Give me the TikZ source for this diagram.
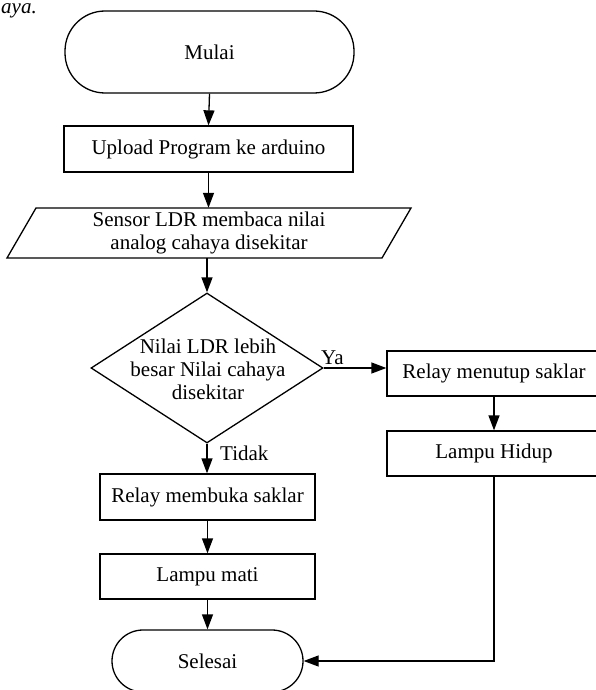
\documentclass[tikz,border=0pt]{standalone}
\usepackage{fontspec}
\setmainfont{Liberation Serif}
\usetikzlibrary{arrows.meta,shapes.geometric,calc}
\tikzset{
  base/.style={line width=1.3pt},
  txt/.style={font=\fontsize{21}{23}\selectfont, align=center, inner sep=0pt},
  procbox/.style={base, draw, rectangle, txt},
  termbox/.style={base, draw, rectangle, txt},
  arr/.style={base, -{Triangle[length=15pt,width=11pt]}},
  lbl/.style={font=\fontsize{21}{23}\selectfont, inner sep=0pt}
}
\begin{document}
\begin{tikzpicture}[x=1pt,y=-1pt]
\useasboundingbox (0,0) rectangle (595,690);
% text fragment at the top
\node[lbl, font=\fontsize{21}{23}\selectfont\itshape, anchor=base west] (frag) at (1,14) {aya.};
% terminals
\node[termbox, rounded corners=40pt, minimum width=289pt, minimum height=82pt] (mulai) at (209.5,52) {Mulai};
\node[procbox, minimum width=289pt, minimum height=46pt] (upload) at (208.5,149) {Upload Program ke arduino};
% input/output parallelogram
\node[txt, minimum width=346pt, minimum height=50pt] (sensor) at (209,233) {Sensor LDR membaca nilai\\analog cahaya disekitar};
\draw[base] (36,208) -- (411,208) -- (382,258) -- (7,258) -- cycle;
% decision
\node[base, draw, diamond, minimum width=232pt, minimum height=150pt, inner sep=0pt] (dec) at (207,368) {};
\node[txt] (dectext) at (208,369) {Nilai LDR lebih\\besar Nilai cahaya\\disekitar};
% right branch
\node[procbox, minimum width=214pt, minimum height=45pt] (menutup) at (494,373.5) {Relay menutup saklar};
\node[procbox, minimum width=214pt, minimum height=45pt] (hidup) at (494,453.5) {Lampu Hidup};
% left branch
\node[procbox, minimum width=215pt, minimum height=46pt] (membuka) at (207.5,497) {Relay membuka saklar};
\node[procbox, minimum width=215pt, minimum height=45pt] (mati) at (207.5,576.5) {Lampu mati};
\node[termbox, rounded corners=31pt, minimum width=191pt, minimum height=62pt] (selesai) at (207.5,661) {Selesai};
\coordinate (corner) at (hidup.south |- selesai.east);
% connectors
\draw[arr] (mulai.south) -- (upload.north);
\draw[arr] (upload.south) -- (upload.south |- sensor.north);
\draw[arr] (sensor.south -| dec.north) -- (dec.north);
\draw[arr] (dec.east) -- (menutup.west |- dec.east);
\draw[arr] (dec.south) -- (dec.south |- membuka.north);
\draw[arr] (menutup.south) -- (hidup.north);
\draw[arr] (membuka.south) -- (mati.north);
\draw[arr] (mati.south) -- (mati.south |- selesai.north);
\draw[arr] (hidup.south) -- (corner) -- (selesai.east);
% labels
\node[lbl, anchor=base west] (ya) at (321,364) {Ya};
\node[lbl, anchor=base west] (tidak) at (220,460) {Tidak};
\end{tikzpicture}
\end{document}
